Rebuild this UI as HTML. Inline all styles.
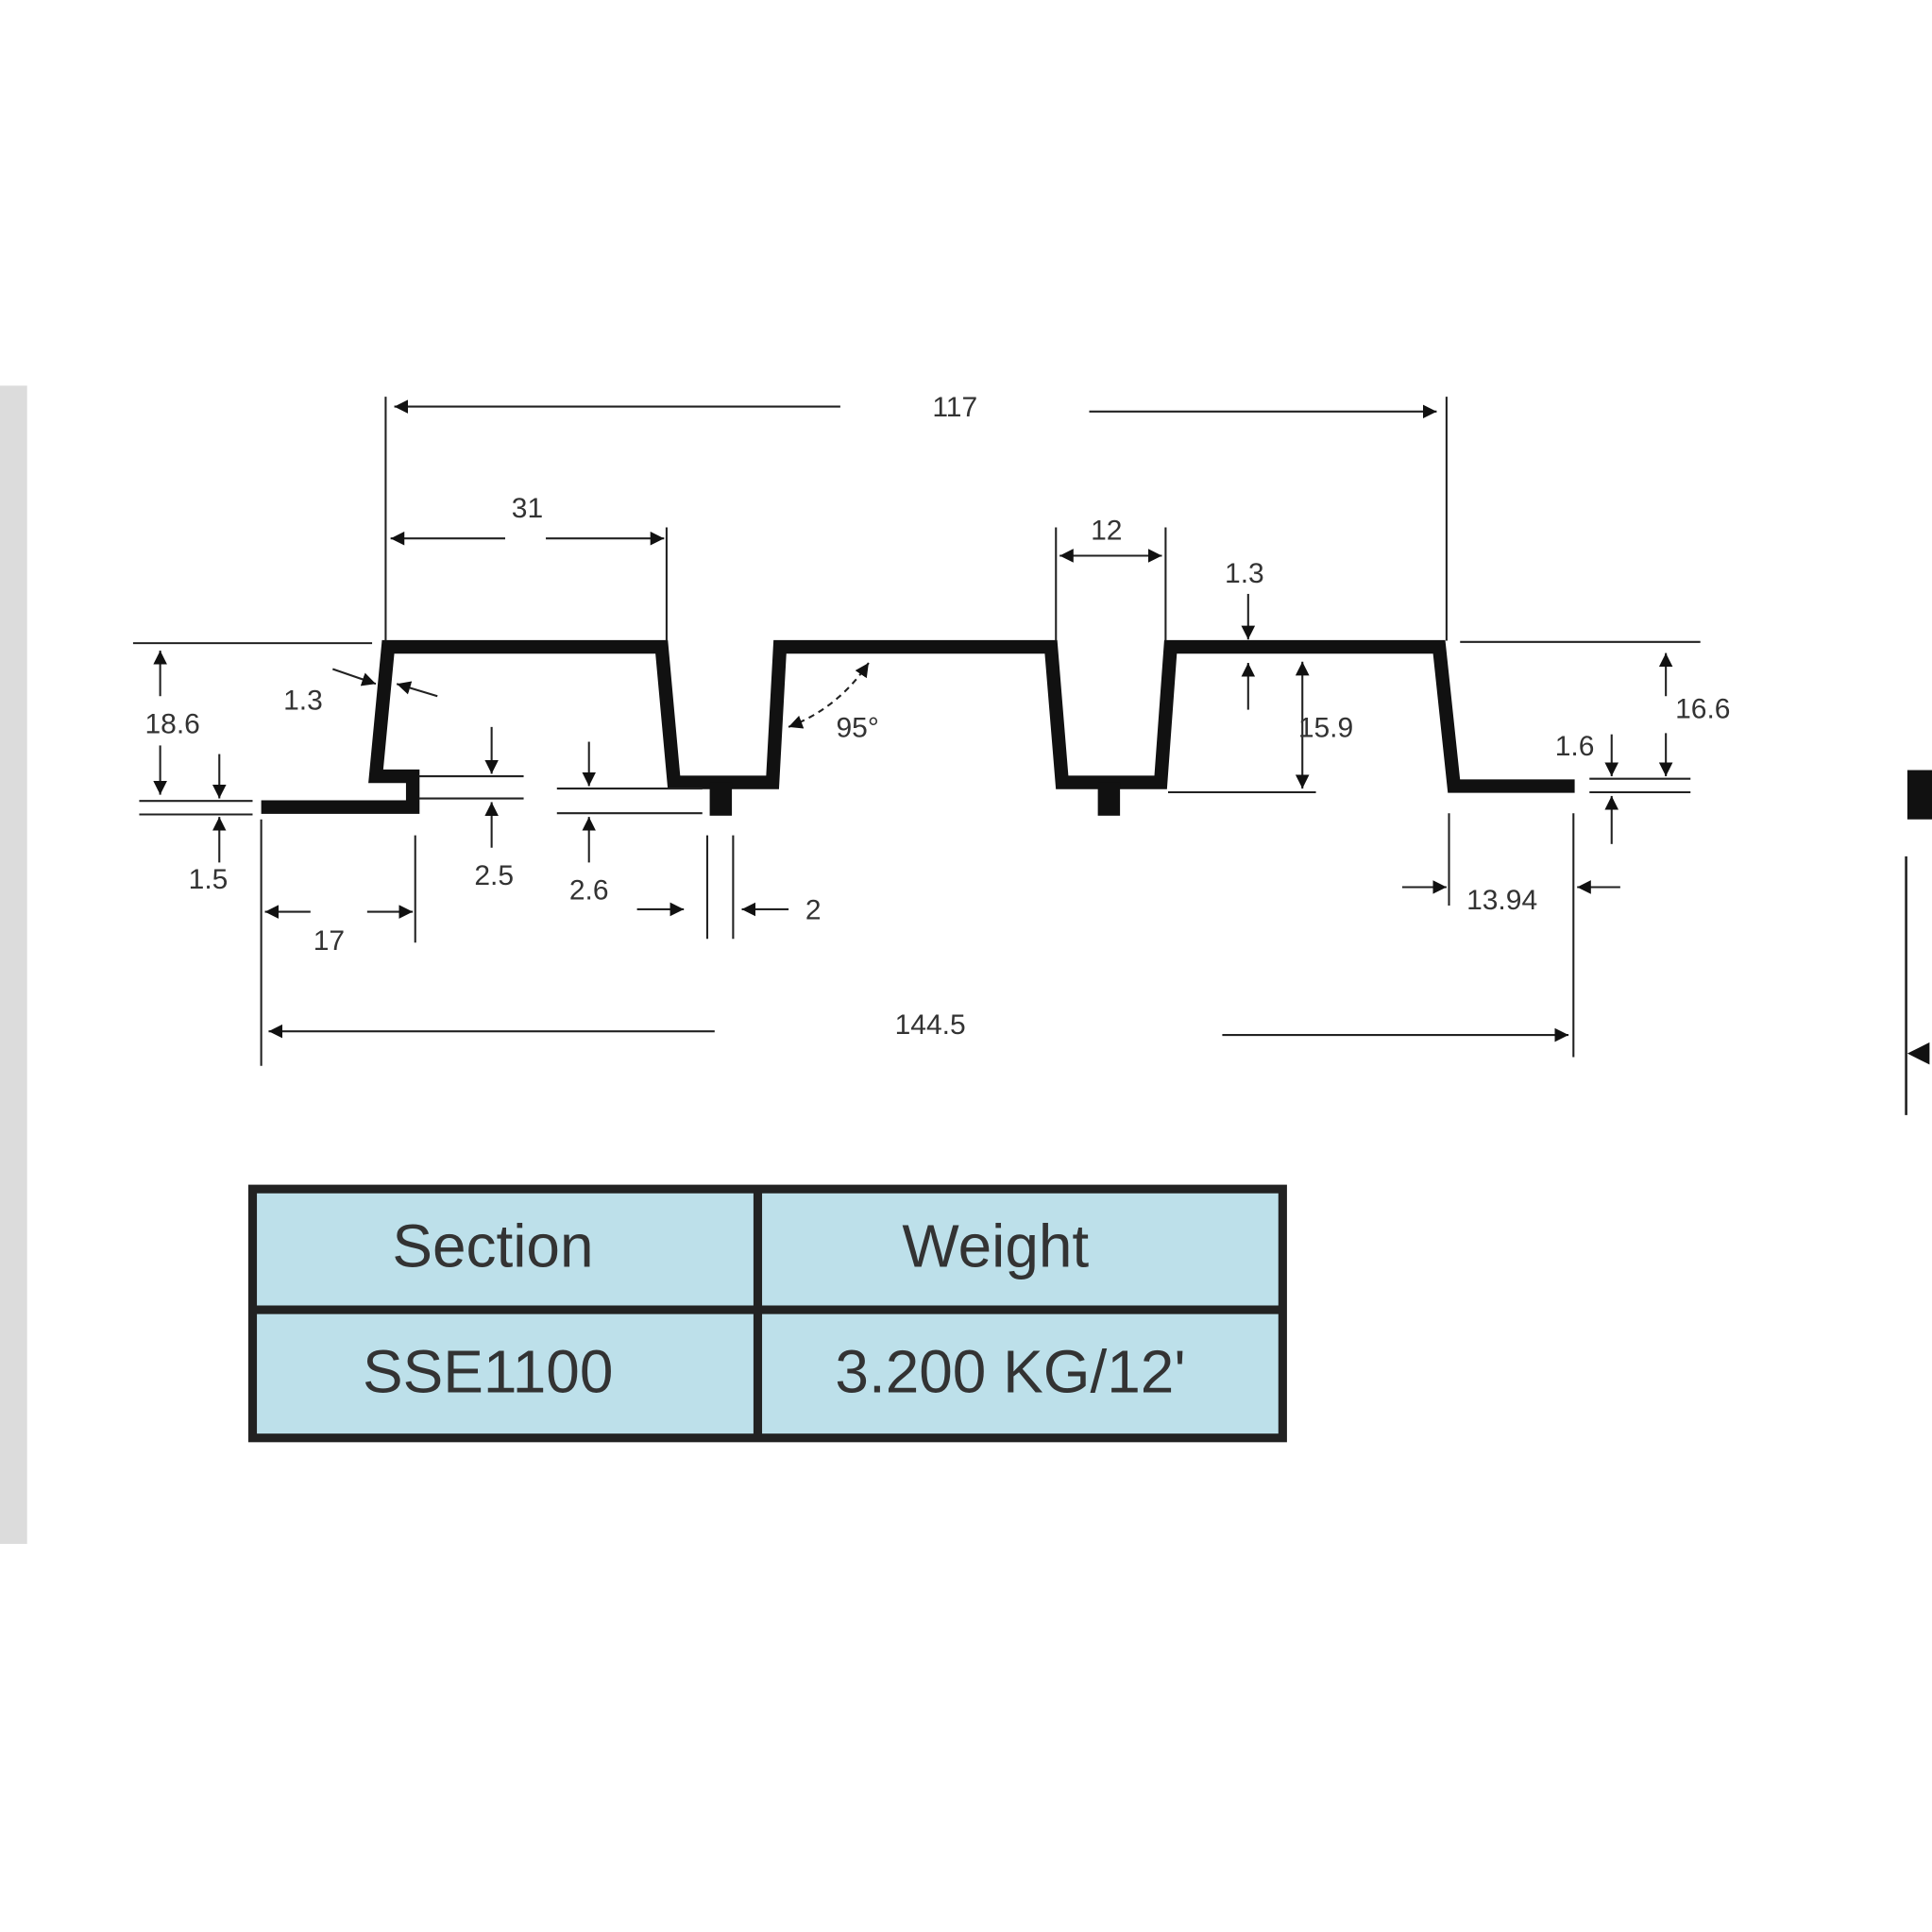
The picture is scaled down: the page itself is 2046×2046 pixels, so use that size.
<!DOCTYPE html>
<html><head><meta charset="utf-8"><style>
html,body{margin:0;padding:0;background:#fff;}
svg{display:block;}
text{font-family:"Liberation Sans",sans-serif;}
</style></head><body>
<svg width="2046" height="2046" viewBox="0 0 1568 1568" xmlns="http://www.w3.org/2000/svg">
<defs>
<marker id="a" viewBox="0 0 10 10" refX="10" refY="5" markerWidth="7" markerHeight="7" orient="auto-start-reverse"><path d="M0,0 L10,5 L0,10 z" fill="#111"/></marker>
</defs>
<rect x="0" y="313" width="22" height="940" fill="#dcdcdc"/>
<!-- profile -->
<polyline fill="none" stroke="#111" stroke-width="11" stroke-linejoin="miter" points="212,655 335,655 335,630 305,630 315,525 537,525 547,635 627,635 633,525 853,525 862,635 942,635 950,525 1168,525 1180,638 1278,638"/>
<rect x="576" y="635" width="18" height="27" fill="#111"/>
<rect x="891" y="635" width="18" height="27" fill="#111"/>
<g stroke="#222" stroke-width="1.6" fill="none">
<!-- extension lines -->
<line x1="313" y1="322" x2="313" y2="520"/>
<line x1="1174" y1="322" x2="1174" y2="520"/>
<line x1="541" y1="428" x2="541" y2="520"/>
<line x1="857" y1="428" x2="857" y2="520"/>
<line x1="946" y1="428" x2="946" y2="520"/>
<line x1="108" y1="522" x2="302" y2="522"/>
<line x1="113" y1="650" x2="205" y2="650"/>
<line x1="113" y1="661" x2="205" y2="661"/>
<line x1="340" y1="630" x2="425" y2="630"/>
<line x1="340" y1="648" x2="425" y2="648"/>
<line x1="452" y1="640" x2="570" y2="640"/>
<line x1="452" y1="660" x2="570" y2="660"/>
<line x1="1185" y1="521" x2="1380" y2="521"/>
<line x1="1290" y1="632" x2="1372" y2="632"/>
<line x1="1290" y1="643" x2="1372" y2="643"/>
<line x1="948" y1="643" x2="1068" y2="643"/>
<line x1="212" y1="665" x2="212" y2="865"/>
<line x1="337" y1="678" x2="337" y2="765"/>
<line x1="574" y1="678" x2="574" y2="762"/>
<line x1="595" y1="678" x2="595" y2="762"/>
<line x1="1176" y1="660" x2="1176" y2="735"/>
<line x1="1277" y1="660" x2="1277" y2="858"/>
<!-- dimension lines -->
<line x1="320" y1="330" x2="682" y2="330" marker-start="url(#a)"/>
<line x1="884" y1="334" x2="1166" y2="334" marker-end="url(#a)"/>
<line x1="317" y1="437" x2="410" y2="437" marker-start="url(#a)"/>
<line x1="443" y1="437" x2="539" y2="437" marker-end="url(#a)"/>
<line x1="860" y1="451" x2="943" y2="451" marker-start="url(#a)" marker-end="url(#a)"/>
<line x1="1013" y1="482" x2="1013" y2="519" marker-end="url(#a)"/>
<line x1="1013" y1="576" x2="1013" y2="538" marker-end="url(#a)"/>
<line x1="1057" y1="537" x2="1057" y2="640" marker-start="url(#a)" marker-end="url(#a)"/>
<line x1="1352" y1="530" x2="1352" y2="565" marker-start="url(#a)"/>
<line x1="1352" y1="595" x2="1352" y2="630" marker-end="url(#a)"/>
<line x1="1308" y1="596" x2="1308" y2="630" marker-end="url(#a)"/>
<line x1="1308" y1="685" x2="1308" y2="646" marker-end="url(#a)"/>
<line x1="130" y1="528" x2="130" y2="565" marker-start="url(#a)"/>
<line x1="130" y1="605" x2="130" y2="645" marker-end="url(#a)"/>
<line x1="178" y1="612" x2="178" y2="648" marker-end="url(#a)"/>
<line x1="178" y1="700" x2="178" y2="663" marker-end="url(#a)"/>
<line x1="399" y1="590" x2="399" y2="628" marker-end="url(#a)"/>
<line x1="399" y1="688" x2="399" y2="651" marker-end="url(#a)"/>
<line x1="478" y1="602" x2="478" y2="638" marker-end="url(#a)"/>
<line x1="478" y1="700" x2="478" y2="663" marker-end="url(#a)"/>
<line x1="270" y1="543" x2="305" y2="555" marker-end="url(#a)"/>
<line x1="355" y1="565" x2="322" y2="555" marker-end="url(#a)"/>
<line x1="215" y1="740" x2="252" y2="740" marker-start="url(#a)"/>
<line x1="298" y1="740" x2="335" y2="740" marker-end="url(#a)"/>
<line x1="517" y1="738" x2="555" y2="738" marker-end="url(#a)"/>
<line x1="640" y1="738" x2="602" y2="738" marker-end="url(#a)"/>
<line x1="1138" y1="720" x2="1174" y2="720" marker-end="url(#a)"/>
<line x1="1315" y1="720" x2="1280" y2="720" marker-end="url(#a)"/>
<line x1="218" y1="837" x2="580" y2="837" marker-start="url(#a)"/>
<line x1="992" y1="840" x2="1273" y2="840" marker-end="url(#a)"/>
<path d="M640,590 Q680,575 705,538" stroke-dasharray="5,4" marker-start="url(#a)" marker-end="url(#a)"/>
</g>
<g font-size="23" fill="#333">
<text x="775" y="338" text-anchor="middle">117</text>
<text x="428" y="420" text-anchor="middle">31</text>
<text x="898" y="438" text-anchor="middle">12</text>
<text x="1010" y="473" text-anchor="middle">1.3</text>
<text x="246" y="576" text-anchor="middle">1.3</text>
<text x="140" y="595" text-anchor="middle">18.6</text>
<text x="696" y="598" text-anchor="middle">95°</text>
<text x="1076" y="598" text-anchor="middle">15.9</text>
<text x="1382" y="583" text-anchor="middle">16.6</text>
<text x="1278" y="613" text-anchor="middle">1.6</text>
<text x="169" y="721" text-anchor="middle">1.5</text>
<text x="401" y="718" text-anchor="middle">2.5</text>
<text x="478" y="730" text-anchor="middle">2.6</text>
<text x="660" y="746" text-anchor="middle">2</text>
<text x="1219" y="738" text-anchor="middle">13.94</text>
<text x="267" y="771" text-anchor="middle">17</text>
<text x="755" y="839" text-anchor="middle">144.5</text>
</g>
<!-- right partial -->
<rect x="1548" y="625" width="20" height="40" fill="#111"/>
<line x1="1547" y1="695" x2="1547" y2="905" stroke="#222" stroke-width="2"/>
<path d="M1548,855 L1566,846 L1566,864 z" fill="#111"/>
<!-- table -->
<rect x="205" y="965" width="836" height="202" fill="#bde0ea" stroke="#222" stroke-width="7"/>
<line x1="615" y1="965" x2="615" y2="1167" stroke="#222" stroke-width="7"/>
<line x1="205" y1="1063" x2="1041" y2="1063" stroke="#222" stroke-width="7"/>
<g font-size="49" fill="#333" text-anchor="middle">
<text x="400" y="1028">Section</text>
<text x="808" y="1028">Weight</text>
<text x="396" y="1130">SSE1100</text>
<text x="820" y="1130">3.200 KG/12'</text>
</g>
</svg>
</body></html>
